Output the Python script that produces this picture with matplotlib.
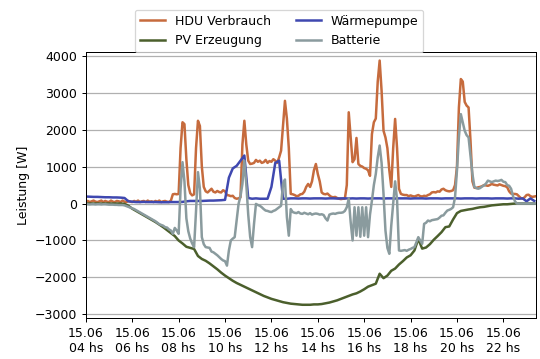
import matplotlib
matplotlib.use("Agg")
import matplotlib.pyplot as plt
import matplotlib.dates as mdates
import pandas as pd

# Leistungsdaten vom 15.06., HDU und Batterie im 5-min Raster, PV und WP im 10-min Raster
t5 = pd.date_range("2021-06-15 04:00", "2021-06-15 23:25", freq="5min")
t10 = pd.date_range("2021-06-15 04:00", "2021-06-15 23:20", freq="10min")

hdu = [
    40, 70, 40, 60, 80, 50, 40, 60, 80, 40, 70, 50,
    40, 80, 50, 40, 70, 60, 40, 80, 50, 40, 70, 50,
    40, 70, 50, 80, 40, 60, 70, 40, 80, 50, 60, 40,
    70, 50, 80, 40, 60, 70, 50, 40, 80, 250, 260, 250,
    260, 1500, 2200, 2150, 1200, 500, 280, 220, 250, 1500, 2240, 2100,
    1000, 450, 330, 300, 350, 400, 320, 300, 340, 310, 300, 360,
    330, 230, 220, 200, 210, 150, 130, 140, 170, 1600, 2240, 1600,
    1160, 1070, 1080, 1100, 1180, 1130, 1160, 1100, 1120, 1180, 1100, 1150,
    1130, 1200, 1160, 1100, 1250, 1430, 2100, 2780, 2300, 1500, 260, 250,
    230, 200, 210, 250, 260, 320, 450, 530, 450, 600, 900, 1070,
    800, 600, 300, 260, 250, 270, 220, 180, 170, 180, 150, 130,
    120, 130, 130, 500, 2470, 1800, 1120, 1200, 1775, 1070, 1020, 1000,
    960, 940, 900, 750, 1880, 2200, 2300, 3300, 3870, 3050, 1970, 1790,
    1500, 900, 450, 1500, 2290, 1500, 400, 260, 240, 230, 230, 200,
    220, 200, 190, 210, 230, 200, 190, 210, 200, 230, 250, 300,
    310, 300, 330, 320, 380, 400, 360, 340, 330, 340, 360, 500,
    1000, 2600, 3370, 3300, 2750, 2650, 2600, 1700, 600, 430, 420, 440,
    450, 470, 500, 490, 480, 500, 530, 510, 500, 490, 520, 500,
    480, 470, 440, 330, 270, 260, 260, 250, 200, 150, 130, 170,
    230, 240, 200, 180, 190, 200,
]

batterie = [
    -20, -20, -25, -20, -20, -25, -20, -20, -25, -20, -20, -25,
    -30, -30, -30, -35, -35, -40, -40, -40, -50, -70, -90, -110,
    -130, -150, -180, -210, -240, -270, -300, -330, -360, -390, -420, -450,
    -480, -520, -560, -580, -600, -640, -650, -700, -730, -820, -660, -730,
    -820, 400, 1120, 600, -400, -750, -950, -1080, -1180, -200, 850, 400,
    -910, -1100, -1180, -1190, -1200, -1300, -1320, -1360, -1400, -1450, -1500, -1540,
    -1560, -1680, -1270, -1000, -950, -910, -460, -10, 200, 530, 1160, 530,
    -300, -900, -1180, -550, -10, -40, -60, -100, -150, -190, -200, -220,
    -230, -200, -180, -140, -100, -60, 530, 650, -370, -870, -150, -230,
    -250, -260, -230, -270, -280, -250, -270, -290, -260, -300, -280, -270,
    -280, -300, -290, -310, -400, -460, -300, -280, -270, -280, -260, -250,
    -250, -240, -200, -100, 130, -500, -1000, -100, -870, -100, -900, -100,
    -870, -100, -910, -300, 80, 500, 800, 1250, 1570, 1100, 260, -730,
    -1200, -1360, -600, 0, 600, 100, -1270, -1280, -1270, -1260, -1280, -1250,
    -1230, -1200, -1180, -1050, -910, -1000, -1090, -550, -520, -460, -480, -450,
    -440, -430, -420, -380, -330, -320, -250, -190, -170, -145, -100, 170,
    900, 1800, 2420, 2200, 1970, 1850, 1790, 1300, 800, 450, 420, 400,
    420, 460, 490, 540, 620, 600, 580, 600, 620, 610, 620, 640,
    590, 580, 500, 480, 400, 200, 60, 0, 0, 0, 0, 0,
    0, 0, 0, 0, 0, 0,
]

waermepumpe = [
    190, 185, 180, 180, 175, 170,
    170, 165, 165, 160, 150, 60,
    50, 40, 40, 45, 40, 40,
    40, 35, 35, 35, 40, 40,
    40, 45, 60, 70, 70, 70,
    70, 75, 80, 80, 85, 90,
    100, 700, 950, 1020, 1160, 1300,
    150, 130, 140, 130, 130, 130,
    450, 1100, 1160, 130, 130, 140,
    140, 135, 140, 140, 135, 140,
    140, 140, 135, 140, 140, 135,
    140, 140, 135, 140, 135, 140,
    140, 135, 140, 140, 140, 135,
    140, 140, 135, 140, 140, 140,
    135, 140, 140, 140, 135, 140,
    140, 140, 135, 140, 140, 140,
    140, 135, 140, 140, 140, 135,
    140, 140, 140, 135, 140, 140,
    140, 135, 140, 140, 130, 140,
    60, 140, 70,
]

pv = [
    0, 0, 0, 0, 0, 0,
    0, 0, 0, 0, -10, -60,
    -140, -200, -260, -320, -380, -440,
    -500, -570, -640, -720, -800, -880,
    -1000, -1080, -1170, -1200, -1230, -1420,
    -1500, -1550, -1620, -1700, -1780, -1870,
    -1950, -2020, -2090, -2150, -2200, -2250,
    -2300, -2350, -2400, -2450, -2500, -2540,
    -2580, -2610, -2640, -2670, -2690, -2710,
    -2720, -2730, -2740, -2740, -2740, -2730,
    -2730, -2720, -2700, -2680, -2650, -2620,
    -2580, -2540, -2500, -2460, -2430, -2380,
    -2320, -2250, -2210, -2170, -1900, -2020,
    -1950, -1820, -1760, -1650, -1560, -1460,
    -1400, -1270, -960, -1220, -1190, -1100,
    -980, -880, -775, -640, -620, -430,
    -260, -200, -180, -160, -145, -120,
    -100, -90, -70, -50, -40, -30,
    -20, -20, -10, 0, 0, 0,
    0, 0, 0,
]

fig = plt.figure(figsize=(6, 359 / 90), dpi=90)
ax = fig.add_axes([0.159, 0.114, 0.834, 0.741])

ax.plot(t5, hdu, color="#c66b3d", lw=2, label="HDU Verbrauch")
ax.plot(t10, pv, color="#4b5f2c", lw=2, label="PV Erzeugung")
ax.plot(t10, waermepumpe, color="#3f48b0", lw=2, label="Wärmepumpe")
ax.plot(t5, batterie, color="#8a9b9e", lw=2, label="Batterie")

ax.set_xlim(t5[0], t5[-1])
ax.set_ylim(-3100, 4100)
ax.set_yticks(range(-3000, 4001, 1000))
ax.yaxis.grid(True, color="#b0b0b0", lw=1)
ax.set_axisbelow(True)

ax.xaxis.set_major_locator(mdates.HourLocator(byhour=range(4, 24, 2)))
ax.xaxis.set_major_formatter(mdates.DateFormatter("%d.%m\n%H hs"))
ax.tick_params(labelsize=10)
ax.set_ylabel("Leistung [W]", fontsize=10)

fig.legend(loc="upper center", bbox_to_anchor=(0.517, 0.99), ncol=2, fontsize=10)

fig.savefig("out.png", dpi=90)
